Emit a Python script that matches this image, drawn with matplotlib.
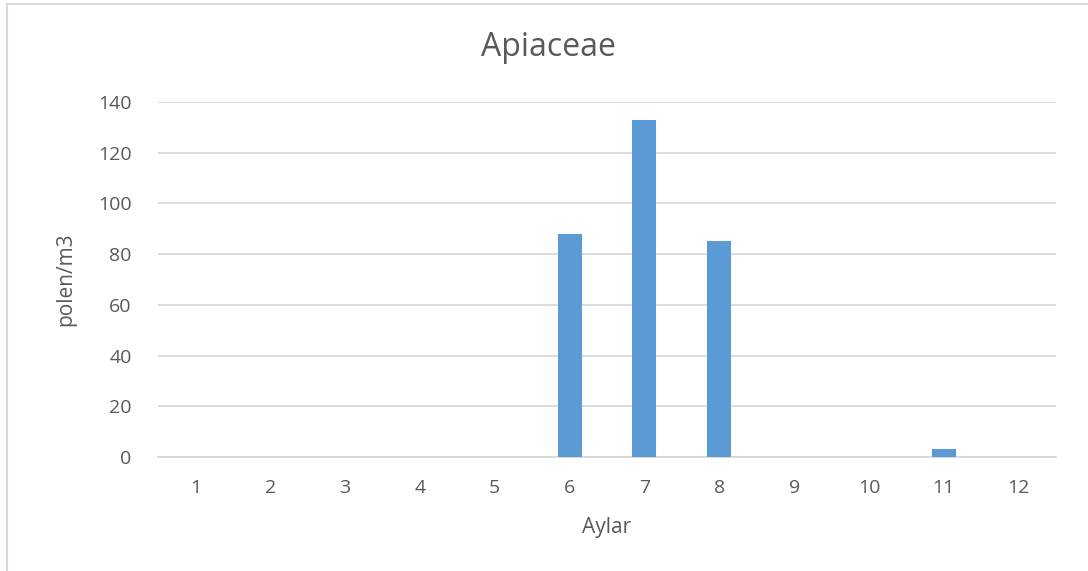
import matplotlib
matplotlib.use("Agg")
import matplotlib.pyplot as plt
from matplotlib.patches import Rectangle

months = [str(i) for i in range(1, 13)]
values = [0, 0, 0, 0, 0, 88, 133, 85, 0, 0, 3, 0]
yticks = [0, 20, 40, 60, 80, 100, 120, 140]

plt.rcParams['font.family'] = ['Open Sans', 'DejaVu Sans']
txt = '#595959'

fig = plt.figure(figsize=(10.88, 5.71), dpi=100)
fig.patches.append(Rectangle((7/1088, -0.01), 1.02, 1 - 4/571 + 0.01, transform=fig.transFigure,
                             fill=False, edgecolor='#d9d9d9', linewidth=1.5))
ax = fig.add_axes([158/1088, 1 - 457/571, 898/1088, 355/571])
x = list(range(len(months)))
ax.bar(x, values, width=0.32, color='#5b9bd5', zorder=3)
ax.set_xlim(-0.5, len(months) - 0.5)
ax.set_ylim(0, 140)
ax.set_yticks(yticks)
ax.set_xticks(x)
ax.set_xticklabels(months)
ax.grid(axis='y', color='#d9d9d9', linewidth=1.3, zorder=0)
for s in ['top', 'right', 'left']:
    ax.spines[s].set_visible(False)
ax.spines['bottom'].set_color('#d9d9d9')
ax.spines['bottom'].set_linewidth(1.3)
ax.tick_params(length=0, labelsize=14, colors=txt)
ax.tick_params(axis='x', pad=16)
ax.tick_params(axis='y', pad=19)
ax.set_xlabel('Aylar', fontsize=15, color=txt, labelpad=14)
ax.set_ylabel('polen/m3', fontsize=15, color=txt, labelpad=16)
fig.text(548/1088, 1 - 47/571, 'Apiaceae', ha='center', va='center', fontsize=23, color=txt)
fig.savefig('out.png', dpi=100)
